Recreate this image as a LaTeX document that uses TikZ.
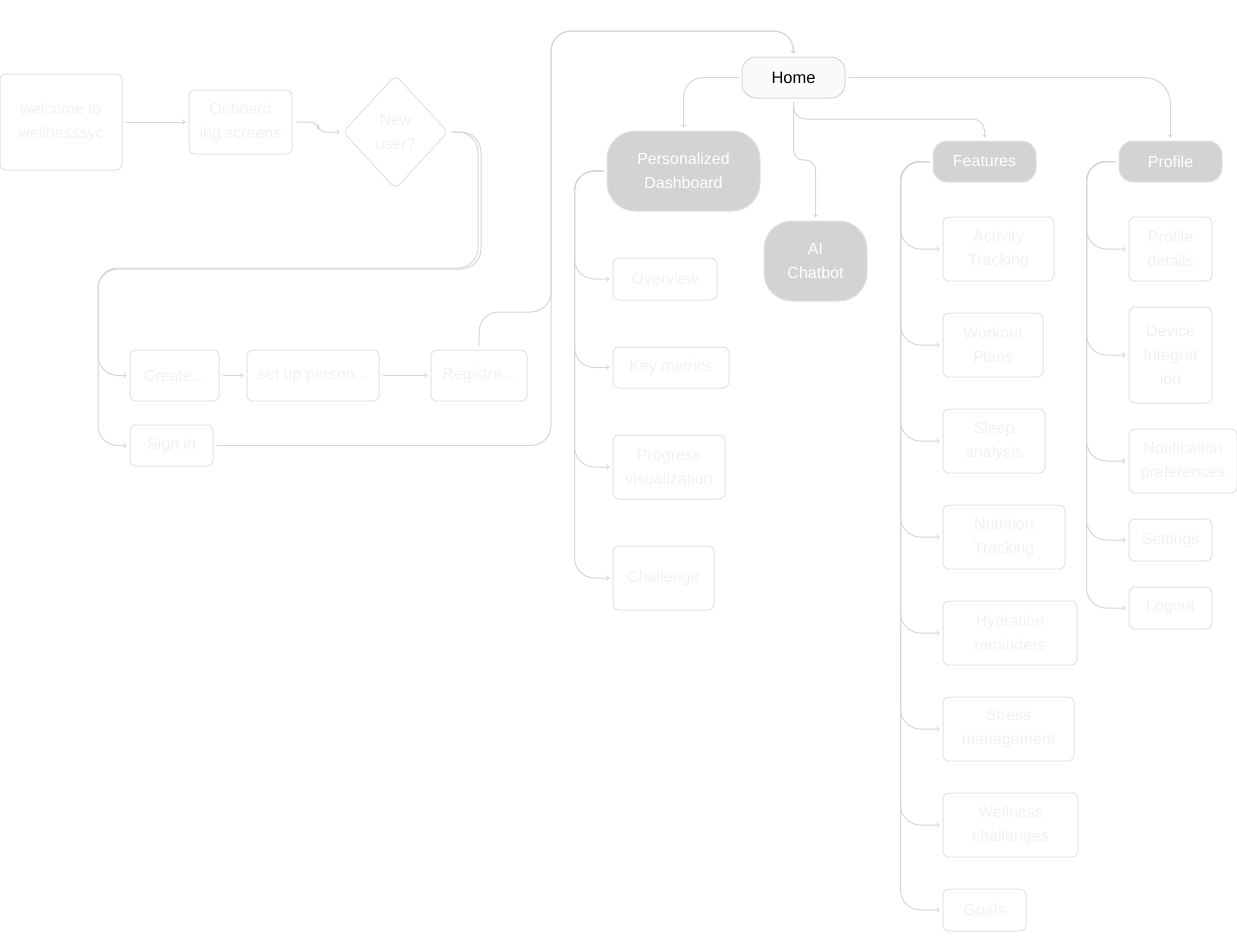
\documentclass[tikz,border=0pt]{standalone}
\usepackage{fontspec}
\setmainfont{Liberation Sans}
\usepackage{tikz}
\usetikzlibrary{arrows,shapes.geometric,positioning}
\definecolor{linegray}{HTML}{D6D6D6}
\definecolor{boxgray}{HTML}{E2E2E2}
\definecolor{textgray}{HTML}{F1F1F1}
\definecolor{hubgray}{HTML}{D3D3D3}
\definecolor{homefill}{HTML}{FAFAFA}
\begin{document}
\begin{tikzpicture}[
x=1pt,y=-1pt,
>=to,
shorten >=3pt,
shorten <=3pt,
line width=1pt,
faded node/.style={rectangle,
								rounded corners=6pt,
								draw=boxgray,
								text=textgray,
								align=center,
								inner sep=2pt,
								font=\fontsize{16}{24}\selectfont},
hub node/.style={rectangle,
								rounded corners=28pt,
								fill=hubgray,
								draw=boxgray,
								text=white,
								align=center,
								font=\fontsize{16}{24}\selectfont},
home node/.style={rectangle,
								rounded corners=14pt,
								fill=homefill,
								draw=linegray,
								text=black,
								font=\fontsize{16.5}{24}\selectfont},
link/.style={->,draw=linegray,rounded corners=20pt}]
\useasboundingbox (0,0) rectangle (1237,948);
%onboarding
  \node[faded node,minimum width=122pt,minimum height=96pt] (welcome) at (61,122) {welcome to\\wellnesssyc};
  \node[faded node,minimum width=103pt,minimum height=64pt] (onboard) at (240.5,122) {Onboard\\ing screens};
  \node[faded node,diamond,rounded corners=6pt,minimum width=105pt,minimum height=114pt,inner sep=0pt] (newuser) at (395.5,132) {New\\user?};
  \node[faded node,minimum width=89pt,minimum height=51pt] (create) at (174.5,375.5) {Create...};
  \node[faded node,minimum width=132pt,minimum height=51pt] (setup) at (313,375.5) {set up person...};
  \node[faded node,minimum width=96pt,minimum height=51pt] (registra) at (479,375.5) {Registra...};
  \node[faded node,minimum width=83pt,minimum height=41pt] (signin) at (171.5,445.5) {Sign in};
%home and hubs
  \node[home node,minimum width=103pt,minimum height=41pt] (home) at (793.5,77.5) {Home};
  \node[hub node,minimum width=153pt,minimum height=80pt] (dash) at (683.5,171) {Personalized\\Dashboard};
  \node[hub node,minimum width=103pt,minimum height=80pt] (chatbot) at (815.5,261) {AI\\Chatbot};
  \node[hub node,rounded corners=14pt,minimum width=103pt,minimum height=41pt] (features) at (984.5,161.5) {Features};
  \node[hub node,rounded corners=14pt,minimum width=103pt,minimum height=41pt] (profile) at (1170.5,161.5) {Profile};
%dashboard
  \node[faded node,minimum width=104pt,minimum height=42pt] (overview) at (665,279) {Overview};
  \node[faded node,minimum width=116pt,minimum height=41pt] (metrics) at (671,367.5) {Key metrics};
  \node[faded node,minimum width=112pt,minimum height=64pt] (progress) at (669,467) {Progress\\visualization};
  \node[faded node,minimum width=101pt,minimum height=64pt] (challenge) at (663.5,578) {Challenge};
%features
  \node[faded node,minimum width=111pt,minimum height=64pt] (activity) at (998.5,249) {Activity\\Tracking};
  \node[faded node,minimum width=100pt,minimum height=64pt] (workout) at (993,345) {Workout\\Plans};
  \node[faded node,minimum width=102pt,minimum height=64pt] (sleep) at (994,441) {Sleep\\analysis};
  \node[faded node,minimum width=122pt,minimum height=64pt] (nutrition) at (1004,537) {Nutrition\\Tracking};
  \node[faded node,minimum width=134pt,minimum height=64pt] (hydration) at (1010,633) {Hydration\\reminders};
  \node[faded node,minimum width=131pt,minimum height=64pt] (stress) at (1008.5,729) {Stress\\management};
  \node[faded node,minimum width=135pt,minimum height=64pt] (wellness) at (1010.5,825) {Wellness\\challenges};
  \node[faded node,minimum width=83pt,minimum height=42pt] (goals) at (984.5,910) {Goals};
%profile
  \node[faded node,minimum width=83pt,minimum height=64pt] (details) at (1170.5,249) {Profile\\details};
  \node[faded node,minimum width=83pt,minimum height=96pt] (device) at (1170.5,355) {Device\\Integrat\\ion};
  \node[faded node,minimum width=108pt,minimum height=64pt] (notify) at (1183,461) {Notification\\preferences};
  \node[faded node,minimum width=83pt,minimum height=42pt] (settings) at (1170.5,540) {Settings};
  \node[faded node,minimum width=83pt,minimum height=42pt] (logout) at (1170.5,608) {Logout};
%paths
  \path[link]
    (welcome) edge (onboard)
    (create) edge (setup)
    (setup) edge (registra);
  \draw[link,rounded corners=8pt] (onboard.east) -- (318,122) -- (318,132) -- (newuser.east -| newuser.west);
  \draw[link] (newuser.east) -- (478,132) -- (478,268) -- (98,268) -- (98,375.5) -- (create.west);
  \draw[link] (newuser.east) -- (481,132) -- (481,269) -- (98,269) -- (98,445.5) -- (signin.west);
  \draw[link] (registra.north) -- (479,312) -- (551,312) -- (551,31) -- (793.5,31) -- (home.north);
  \draw[link] (signin.east) -- (551,445.5) -- (551,31) -- (793.5,31) -- (home.north);
  \draw[link] (home.west) -- (683.5,77.5) -- (dash.north);
  \draw[link,rounded corners=12pt] (home.south) -- (793.5,119) -- (984.5,119) -- (features.north);
  \draw[link,rounded corners=10pt] (home.south) -- (793.5,160) -- (815.5,160) -- (chatbot.north);
  \draw[link,rounded corners=26pt] (home.east) -- (1170.5,77.5) -- (profile.north);
  \foreach \kid in {overview,metrics,progress,challenge}
    \draw[link] (dash.west) -| ([xshift=-38pt]\kid.west) -- (\kid.west);
  \foreach \kid in {activity,workout,sleep,nutrition,hydration,stress,wellness,goals}
    \draw[link] (features.west) -| ([xshift=-42pt]\kid.west) -- (\kid.west);
  \foreach \kid in {details,device,notify,settings,logout}
    \draw[link] (profile.west) -| ([xshift=-42pt]\kid.west) -- (\kid.west);
\end{tikzpicture}
\end{document}
